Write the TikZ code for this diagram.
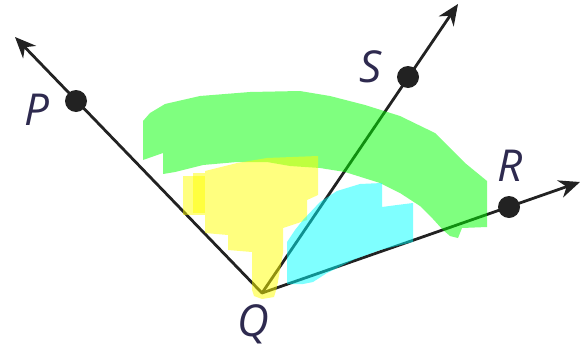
\documentclass[tikz,border=0pt]{standalone}
\usepackage{fontspec}
\setmainfont{Open Sans}
\usetikzlibrary{arrows.meta}
\definecolor{labelc}{HTML}{2E2A4F}
\definecolor{linec}{HTML}{222222}
\definecolor{hlgreen}{rgb}{0,1,0}
\definecolor{hlyellow}{rgb}{1,1,0}
\definecolor{hlcyan}{rgb}{0,1,1}
\begin{document}
\begin{tikzpicture}[x=1pt,y=-1pt,
  ray/.style={line width=2.8pt, draw=linec, line cap=round, -{Stealth[length=21pt,width=18pt]}},
  dot/.style={circle, fill=linec, inner sep=0pt, minimum size=22pt},
  lbl/.style={font=\fontsize{44}{44}\selectfont\itshape, text=labelc, inner sep=0pt},
  hl/.style={fill opacity=0.5, draw=none}
]
\useasboundingbox (0,0) rectangle (581,351);
% vertex and ray ends
\coordinate (Q) at (262,293);
\coordinate (Pt) at (15,37);
\coordinate (St) at (458,4);
\coordinate (Rt) at (580,182);
% rays
\draw[ray] (Q) -- (Pt);
\draw[ray] (Q) -- (St);
\draw[ray] (Q) -- (Rt);
% points
\node[dot] (P) at (76,101) {};
\node[dot] (S) at (408,77) {};
\node[dot] (R) at (509,207) {};
% highlights
\fill[hl, hlgreen] (143,121) -- (150,113) -- (165,104) -- (200,96) -- (250,92) -- (300,91)
  -- (330,96) -- (365,105) -- (400,116) -- (435,133) -- (465,163) -- (487,181)
  -- (487,227) -- (462,228) -- (458,238) -- (450,236) -- (443,230) -- (433,219)
  -- (420,206) -- (400,193) -- (380,183) -- (345,172) -- (320,168) -- (290,166)
  -- (267,162) -- (237,162) -- (203,165) -- (175,172) -- (163,174) -- (163,153)
  -- (143,160) -- cycle;
\fill[hl, hlyellow] (205,171) -- (237,163) -- (267,158) -- (318,156) -- (318,195)
  -- (307,200) -- (307,220) -- (283,228) -- (283,253) -- (277,287) -- (274,297)
  -- (262,299) -- (254,296) -- (252,290) -- (252,252) -- (228,250) -- (228,235)
  -- (205,233) -- cycle;
\fill[hl, hlyellow] (183,176) rectangle (205,215);
\fill[hl, hlyellow] (193,173) rectangle (205,213);
\fill[hl, hlcyan] (287,242) -- (295,230) -- (303,220) -- (320,202) -- (337,191)
  -- (360,184) -- (382,183) -- (382,207) -- (397,205) -- (413,203) -- (413,242)
  -- (380,250) -- (353,260) -- (327,273) -- (313,282) -- (303,284) -- (287,284) -- cycle;
% labels
\node[lbl] (Pl) at (37,110) {P};
\node[lbl] (Sl) at (371,67) {S};
\node[lbl] (Rl) at (510,166) {R};
\node[lbl] (Ql) at (253,324) {Q};
\end{tikzpicture}
\end{document}
